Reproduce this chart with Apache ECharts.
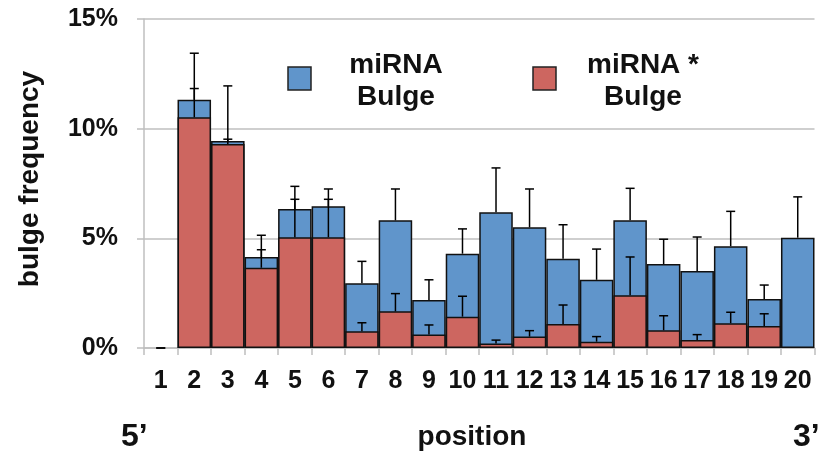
<!DOCTYPE html>
<html>
<head>
<meta charset="utf-8">
<script src="https://cdn.jsdelivr.net/npm/echarts@6/dist/echarts.min.js"></script>
<style>html,body{margin:0;padding:0;background:#fff}#c{width:832px;height:451px}</style>
</head>
<body>
<div id="c"></div>
<script>
var positions = ['1','2','3','4','5','6','7','8','9','10','11','12','13','14','15','16','17','18','19','20'];
// bulge frequency in %
var mirnaBulge     = [0, 11.32, 9.44, 4.15, 6.34, 6.46, 2.95, 5.82, 2.19, 4.30, 6.19, 5.50, 4.07, 3.11, 5.82, 3.83, 3.51, 4.64, 2.23, 5.03];
var mirnaBulgeErr  = [0, 13.44, 11.95, 5.14, 7.37, 7.25, 3.95, 7.25, 3.11, 5.43, 8.21, 7.25, 5.62, 4.51, 7.28, 4.96, 5.06, 6.23, 2.87, 6.89];
var starBulge      = [0, 10.52, 9.30, 3.66, 5.05, 5.05, 0.76, 1.67, 0.61, 1.43, 0.21, 0.52, 1.09, 0.29, 2.40, 0.81, 0.36, 1.13, 1.00, 0];
var starBulgeErr   = [0, 11.83, 9.52, 4.48, 6.78, 6.78, 1.15, 2.48, 1.05, 2.36, 0.36, 0.79, 1.96, 0.52, 4.15, 1.47, 0.61, 1.63, 1.56, null];
var yTicks = [0, 5, 10, 15];

var FONT = 'Liberation Sans, Arial, sans-serif';
var BLUE = '#6095CB', RED = '#CD6660', GRID = '#BFBFBF';

function barData(arr){ return arr.map(function(v){ return v === 0 ? null : v / 100; }); }
function errData(vals, tops){
  var out = [];
  for (var i = 0; i < vals.length; i++) {
    if (tops[i] === null) continue;
    out.push([i, vals[i] / 100, tops[i] / 100]);
  }
  return out;
}
function renderErr(params, api){
  var x = api.value(0), v = api.value(1), e = api.value(2);
  var p0 = api.coord([x, v]), p1 = api.coord([x, e]);
  var hw = 4.5;
  return {type:'group', children:[
    {type:'line', shape:{x1:p0[0], y1:p0[1], x2:p1[0], y2:p1[1]}, style:{stroke:'#000', lineWidth:1.5}},
    {type:'line', shape:{x1:p1[0]-hw, y1:p1[1], x2:p1[0]+hw, y2:p1[1]}, style:{stroke:'#000', lineWidth:1.5}}
  ]};
}

var chart = echarts.init(document.getElementById('c'));
chart.setOption({
  animation: false,
  grid: {left: 144, right: 17.5, top: 19, bottom: 103, containLabel: false},
  xAxis: {
    type: 'category', data: positions, boundaryGap: true,
    axisLine: {show: true, lineStyle: {color: GRID, width: 1.5}},
    axisTick: {show: true, alignWithLabel: false, length: 7, lineStyle: {color: GRID, width: 1.5}},
    axisLabel: {color: '#111', fontSize: 25, fontWeight: 'bold', fontFamily: FONT, margin: 21, interval: 0},
    splitLine: {show: false}
  },
  yAxis: {
    type: 'value', min: 0, max: yTicks[yTicks.length-1] / 100, interval: 0.05,
    axisLine: {show: true, lineStyle: {color: GRID, width: 1.5}},
    axisTick: {show: true, length: 7, lineStyle: {color: GRID, width: 1.5}},
    axisLabel: {color: '#111', fontSize: 25, fontWeight: 'bold', fontFamily: FONT, margin: 26,
      formatter: function(v){ return Math.round(v * 100) + '%'; }},
    splitLine: {show: true, lineStyle: {color: GRID, width: 1.5}}
  },
  series: [
    {name: 'miRNA Bulge', type: 'bar', data: barData(mirnaBulge), barWidth: '100%', barGap: '-100%',
     itemStyle: {color: BLUE, borderColor: '#111', borderWidth: 1.5}, z: 2},
    {name: 'miRNA * Bulge', type: 'bar', data: barData(starBulge), barWidth: '100%', barGap: '-100%',
     itemStyle: {color: RED, borderColor: '#111', borderWidth: 1.5}, z: 3},
    {type: 'custom', data: errData(mirnaBulge, mirnaBulgeErr), renderItem: renderErr, z: 5},
    {type: 'custom', data: errData(starBulge, starBulgeErr), renderItem: renderErr, z: 5}
  ],
  graphic: [
    {type: 'rect', shape: {x: 288, y: 67, width: 23, height: 23}, style: {fill: BLUE, stroke: '#222', lineWidth: 1.5}},
    {type: 'text', x: 396, y: 81, style: {text: 'miRNA\nBulge', fill: '#111', font: 'bold 28px ' + FONT, lineHeight: 32, align: 'center', verticalAlign: 'middle'}},
    {type: 'rect', shape: {x: 533, y: 67, width: 23, height: 23}, style: {fill: RED, stroke: '#222', lineWidth: 1.5}},
    {type: 'text', x: 643, y: 81, style: {text: 'miRNA *\nBulge', fill: '#111', font: 'bold 28px ' + FONT, lineHeight: 32, align: 'center', verticalAlign: 'middle'}},
    {type: 'text', x: 30, y: 179, rotation: Math.PI / 2, style: {text: 'bulge frequency', fill: '#111', font: 'bold 28px ' + FONT, align: 'center', verticalAlign: 'middle'}},
    {type: 'text', x: 472, y: 437, style: {text: 'position', fill: '#111', font: 'bold 28px ' + FONT, align: 'center', verticalAlign: 'middle'}},
    {type: 'text', x: 121, y: 437, style: {text: '5\u2019', fill: '#111', font: 'bold 32px ' + FONT, align: 'left', verticalAlign: 'middle'}},
    {type: 'text', x: 793, y: 437, style: {text: '3\u2019', fill: '#111', font: 'bold 32px ' + FONT, align: 'left', verticalAlign: 'middle'}}
  ]
});
</script>
</body>
</html>
